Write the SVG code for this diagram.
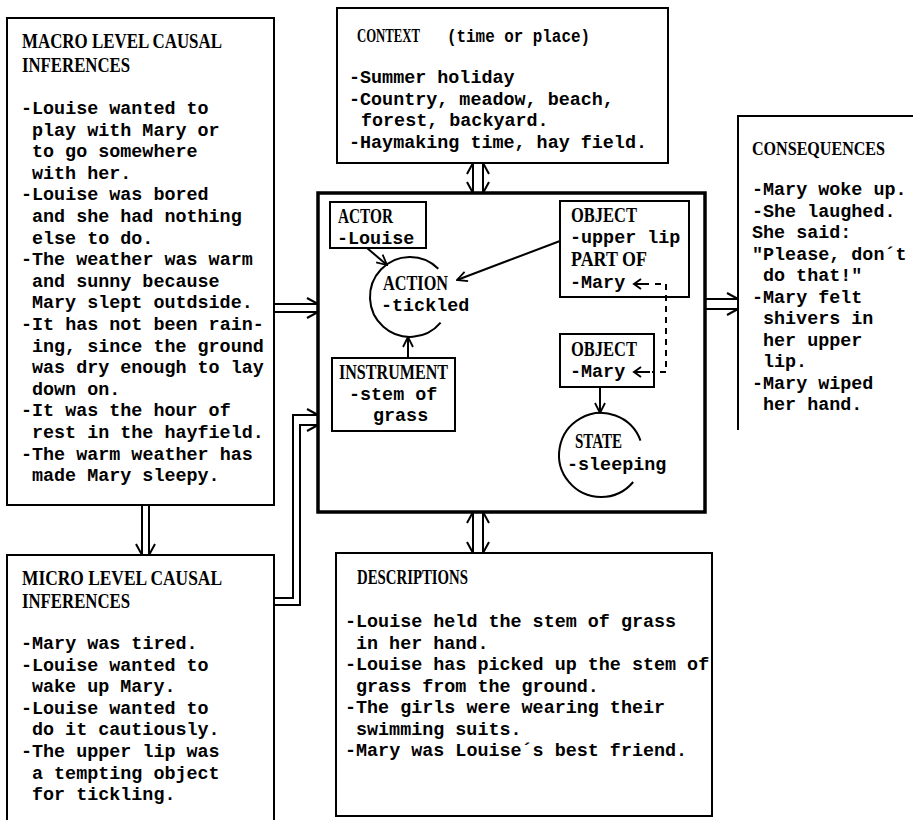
<svg xmlns="http://www.w3.org/2000/svg" width="913" height="820" viewBox="0 0 913 820">
<style>
.t{font-family:"Liberation Mono",monospace;font-size:18.4px;font-weight:bold;fill:#000}
.h{font-family:"Liberation Serif",serif;font-size:21px;font-weight:bold;fill:#000}
.hs{font-size:19px}
.box{fill:none;stroke:#000;stroke-width:2}
.main{fill:none;stroke:#000;stroke-width:3.5}
.ln{fill:none;stroke:#000;stroke-width:2}
.dash{fill:none;stroke:#000;stroke-width:2;stroke-dasharray:6 5}
</style>
<defs>
<marker id="ah" viewBox="0 0 12 12" refX="11" refY="6" markerWidth="12" markerHeight="12" markerUnits="userSpaceOnUse" orient="auto">
<path d="M1,1 L11,6 L1,11" fill="none" stroke="#000" stroke-width="1.8"/>
</marker>
</defs>
<rect width="913" height="820" fill="#fff"/>

<g id="macro">
<rect class="box" x="7" y="18" width="267" height="487"/>
<text class="h" x="22" y="48" textLength="200" lengthAdjust="spacingAndGlyphs">MACRO LEVEL CAUSAL</text>
<text class="h" x="22" y="72" textLength="108" lengthAdjust="spacingAndGlyphs">INFERENCES</text>
<text class="t" x="21" y="114">-Louise wanted to</text>
<text class="t" x="32" y="135.6">play with Mary or</text>
<text class="t" x="32" y="157.2">to go somewhere</text>
<text class="t" x="32" y="178.8">with her.</text>
<text class="t" x="21" y="200.4">-Louise was bored</text>
<text class="t" x="32" y="222">and she had nothing</text>
<text class="t" x="32" y="243.6">else to do.</text>
<text class="t" x="21" y="265.2">-The weather was warm</text>
<text class="t" x="32" y="286.8">and sunny because</text>
<text class="t" x="32" y="308.4">Mary slept outdside.</text>
<text class="t" x="21" y="330">-It has not been rain-</text>
<text class="t" x="32" y="351.6">ing, since the ground</text>
<text class="t" x="32" y="373.2">was dry enough to lay</text>
<text class="t" x="32" y="394.8">down on.</text>
<text class="t" x="21" y="416.4">-It was the hour of</text>
<text class="t" x="32" y="438">rest in the hayfield.</text>
<text class="t" x="21" y="459.6">-The warm weather has</text>
<text class="t" x="32" y="481.2">made Mary sleepy.</text>
</g>

<g id="micro">
<rect class="box" x="7" y="555" width="267" height="280"/>
<text class="h" x="22" y="585" textLength="200" lengthAdjust="spacingAndGlyphs">MICRO LEVEL CAUSAL</text>
<text class="h" x="22" y="608" textLength="108" lengthAdjust="spacingAndGlyphs">INFERENCES</text>
<text class="t" x="21" y="649">-Mary was tired.</text>
<text class="t" x="21" y="670.6">-Louise wanted to</text>
<text class="t" x="32" y="692.2">wake up Mary.</text>
<text class="t" x="21" y="713.8">-Louise wanted to</text>
<text class="t" x="32" y="735.4">do it cautiously.</text>
<text class="t" x="21" y="757">-The upper lip was</text>
<text class="t" x="32" y="778.6">a tempting object</text>
<text class="t" x="32" y="800.2">for tickling.</text>
</g>

<g id="context">
<rect class="box" x="337" y="8" width="331" height="155"/>
<text class="h hs" x="357" y="42" textLength="63" lengthAdjust="spacingAndGlyphs">CONTEXT</text>
<text class="t" x="447" y="42" textLength="143" lengthAdjust="spacingAndGlyphs">(time or place)</text>
<text class="t" x="349" y="83">-Summer holiday</text>
<text class="t" x="349" y="104.5">-Country, meadow, beach,</text>
<text class="t" x="361" y="126">forest, backyard.</text>
<text class="t" x="349" y="147.5">-Haymaking time, hay field.</text>
</g>

<g id="consequences">
<path class="box" d="M738 430 V116 H915"/>
<text class="h hs" x="752" y="155" textLength="133" lengthAdjust="spacingAndGlyphs">CONSEQUENCES</text>
<text class="t" x="752" y="195">-Mary woke up.</text>
<text class="t" x="752" y="216.5">-She laughed.</text>
<text class="t" x="752" y="238">She said:</text>
<text class="t" x="752" y="259.5">"Please, don´t</text>
<text class="t" x="763" y="281">do that!"</text>
<text class="t" x="752" y="302.5">-Mary felt</text>
<text class="t" x="763" y="324">shivers in</text>
<text class="t" x="763" y="345.5">her upper</text>
<text class="t" x="763" y="367">lip.</text>
<text class="t" x="752" y="388.5">-Mary wiped</text>
<text class="t" x="763" y="410">her hand.</text>
</g>

<g id="descriptions">
<rect class="box" x="336" y="553" width="376" height="263"/>
<text class="h" x="357" y="584" textLength="111" lengthAdjust="spacingAndGlyphs">DESCRIPTIONS</text>
<text class="t" x="345" y="627">-Louise held the stem of grass</text>
<text class="t" x="356" y="648.5">in her hand.</text>
<text class="t" x="345" y="670">-Louise has picked up the stem of</text>
<text class="t" x="356" y="691.5">grass from the ground.</text>
<text class="t" x="345" y="713">-The girls were wearing their</text>
<text class="t" x="356" y="734.5">swimming suits.</text>
<text class="t" x="345" y="756">-Mary was Louise´s best friend.</text>
</g>

<g id="event">
<rect class="main" x="318" y="193" width="387" height="319"/>
</g>

<g id="actor">
<rect class="box" x="330" y="202" width="96" height="46"/>
<text class="h" x="338" y="223" textLength="55" lengthAdjust="spacingAndGlyphs">ACTOR</text>
<text class="t" x="337" y="244">-Louise</text>
</g>

<g id="action">
<path class="ln" d="M440.6 322.7 A40 40 0 1 1 438.3 268.7"/>
<text class="h" x="383" y="290" textLength="65" lengthAdjust="spacingAndGlyphs">ACTION</text>
<text class="t" x="381" y="311">-tickled</text>
</g>

<g id="instrument">
<rect class="box" x="332" y="358" width="123" height="73"/>
<text class="h" x="339" y="379" textLength="109" lengthAdjust="spacingAndGlyphs">INSTRUMENT</text>
<text class="t" x="349" y="400">-stem of</text>
<text class="t" x="373" y="421">grass</text>
</g>

<g id="object1">
<rect class="box" x="560" y="201" width="129" height="96"/>
<text class="h" x="571" y="222" textLength="66" lengthAdjust="spacingAndGlyphs">OBJECT</text>
<text class="t" x="570" y="243">-upper lip</text>
<text class="h" x="571" y="266" textLength="76" lengthAdjust="spacingAndGlyphs">PART OF</text>
<text class="t" x="570" y="288">-Mary</text>
</g>

<g id="object2">
<rect class="box" x="560" y="334" width="94" height="53"/>
<text class="h" x="571" y="356" textLength="66" lengthAdjust="spacingAndGlyphs">OBJECT</text>
<text class="t" x="570" y="377">-Mary</text>
</g>

<g id="state">
<path class="ln" d="M633.2 482 A42 42 0 1 1 640.5 440.6"/>
<text class="h" x="575" y="448" textLength="47" lengthAdjust="spacingAndGlyphs">STATE</text>
<text class="t" x="567" y="470">-sleeping</text>
</g>

<g id="connectors">
<path class="ln" d="M142 505 V555 M149 505 V555 M136 544 L142 555 M155 544 L149 555"/>
<path class="ln" d="M274 304 H318 M274 312 H318 M307 298 L318 304 M307 318 L318 312"/>
<path class="ln" d="M274 598 H293 V415 H318 M274 605 H300 V425 H318 M307 409 L318 415 M307 431 L318 425"/>
<path class="ln" d="M473 163 V193 M483 163 V193 M467 174 L473 163 M489 174 L483 163 M467 182 L473 193 M489 182 L483 193"/>
<path class="ln" d="M473 512 V553 M483 512 V553 M467 523 L473 512 M489 523 L483 512 M467 542 L473 553 M489 542 L483 553"/>
<path class="ln" d="M705 299 H738 M705 309 H738 M727 293 L738 299 M727 315 L738 309"/>
<path class="ln" d="M367 248 L387 265" marker-end="url(#ah)"/>
<path class="ln" d="M560 241 L457 280" marker-end="url(#ah)"/>
<path class="ln" d="M408 358 V337" marker-end="url(#ah)"/>
<path class="ln" d="M600 387 V413" marker-end="url(#ah)"/>
<path class="ln" d="M649 284 H634 M641 279 L634 284 L641 289"/>
<path class="ln" d="M650 372 H634 M641 367 L634 372 L641 377"/>
<path class="dash" d="M655 284 H666 V372 H652"/>
</g>
</svg>
